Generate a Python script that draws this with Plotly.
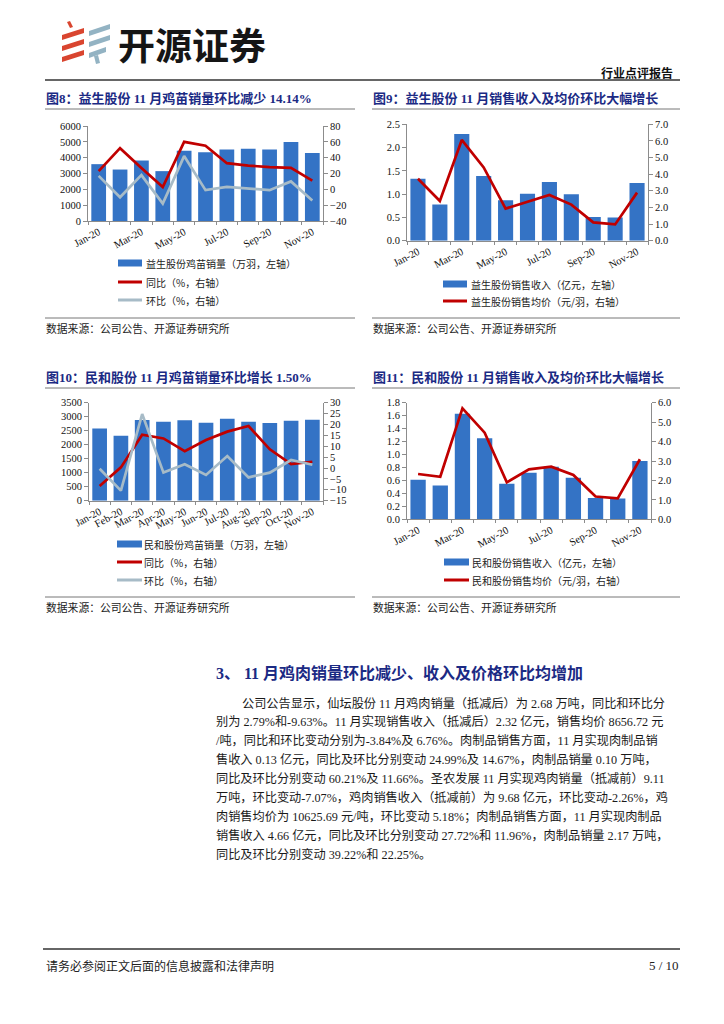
import plotly.graph_objects as go

W, H = 724, 1024
OFF = 8  # page body margin in the browser
def px(x): return (x - OFF) / W
def py(y): return 1 - (y - OFF) / H

# ---------------- data ----------------
months = ['Jan-20', 'Feb-20', 'Mar-20', 'Apr-20', 'May-20', 'Jun-20',
          'Jul-20', 'Aug-20', 'Sep-20', 'Oct-20', 'Nov-20']

ys_chick_vol = [3590, 3250, 3820, 3150, 4440, 4350, 4520, 4560, 4520, 4990, 4290]
ys_chick_yoy = [23, 52, 27, 3, 60, 55, 33, 30, 28, 27, 11]
ys_chick_mom = [17, -10, 18, -18, 42, -1, 3, 1, -1, 10, -14]

ys_rev = [1.33, 0.78, 2.29, 1.39, 0.87, 1.01, 1.26, 1.00, 0.51, 0.50, 1.24]
ys_price = [3.73, 2.39, 6.06, 4.41, 1.93, 2.35, 2.75, 2.17, 1.10, 0.98, 2.89]

mh_chick_vol = [2583, 2321, 2881, 2821, 2869, 2786, 2929, 2821, 2774, 2857, 2893]
mh_chick_yoy = [-8.3, 0.3, 15.3, 13.6, 7.7, 12.9, 16.7, 19.3, 8.6, 1.8, 2.9]
mh_chick_mom = [-0.3, -10.4, 24.8, -2.1, 1.7, -3.2, 5.5, -4.3, -2.1, 3.7, 1.5]

mh_rev = [0.61, 0.52, 1.63, 1.25, 0.55, 0.72, 0.81, 0.64, 0.33, 0.32, 0.90]
mh_price = [2.33, 2.19, 5.71, 4.46, 1.90, 2.57, 2.71, 2.28, 1.17, 1.08, 3.09]

titles = ['图8：益生股份 11 月鸡苗销量环比减少 14.14%',
          '图9：益生股份 11 月销售收入及均价环比大幅增长',
          '图10：民和股份 11 月鸡苗销量环比增长 1.50%',
          '图11：民和股份 11 月销售收入及均价环比大幅增长']
legend8 = ['益生股份鸡苗销量（万羽，左轴）', '同比（%，右轴）', '环比（%，右轴）']
legend9 = ['益生股份销售收入（亿元，左轴）', '益生股份销售均价（元/羽，右轴）']
legend10 = ['民和股份鸡苗销量（万羽，左轴）', '同比（%，右轴）', '环比（%，右轴）']
legend11 = ['民和股份销售收入（亿元，左轴）', '民和股份销售均价（元/羽，右轴）']
source = '数据来源：公司公告、开源证券研究所'

heading = '3、 11 月鸡肉销量环比减少、收入及价格环比均增加'
para = [
    '公司公告显示，仙坛股份 11 月鸡肉销量（抵减后）为 2.68 万吨，同比和环比分',
    '别为 2.79%和-9.63%。11 月实现销售收入（抵减后）2.32 亿元，销售均价 8656.72 元',
    '/吨，同比和环比变动分别为-3.84%及 6.76%。肉制品销售方面，11 月实现肉制品销',
    '售收入 0.13 亿元，同比及环比分别变动 24.99%及 14.67%，肉制品销量 0.10 万吨，',
    '同比及环比分别变动 60.21%及 11.66%。圣农发展 11 月实现鸡肉销量（抵减前）9.11',
    '万吨，环比变动-7.07%，鸡肉销售收入（抵减前）为 9.68 亿元，环比变动-2.26%，鸡',
    '肉销售均价为 10625.69 元/吨，环比变动 5.18%；肉制品销售方面，11 月实现肉制品',
    '销售收入 4.66 亿元，同比及环比分别变动 27.72%和 11.96%，肉制品销量 2.17 万吨，',
    '同比及环比分别变动 39.22%和 22.25%。',
]
header_tag = '行业点评报告'
brand = '开源证券'
footer_note = '请务必参阅正文后面的信息披露和法律声明'
page_no = '5 / 10'

# ---------------- style ----------------
BAR = '#3473C5'
RED = '#C00000'
GRAY = '#A7BBC7'
NAVY = '#1B2A84'
AX = '#8C8C8C'
SERIF = 'Liberation Serif, Noto Sans CJK SC'
CJK = 'Noto Sans CJK SC'

fig = go.Figure()

def add_chart(xid, yl, yr, bars, lines):
    fig.add_trace(go.Bar(x=months, y=bars, marker_color=BAR, marker_line_width=0,
                         xaxis=xid, yaxis=yl, showlegend=False))
    for vals, col in lines:
        fig.add_trace(go.Scatter(x=months, y=vals, mode='lines', line=dict(color=col, width=2.7),
                                 xaxis=xid, yaxis=yr, showlegend=False))

add_chart('x', 'y', 'y2', ys_chick_vol, [(ys_chick_yoy, RED), (ys_chick_mom, GRAY)])
add_chart('x2', 'y3', 'y4', ys_rev, [(ys_price, RED)])
add_chart('x3', 'y5', 'y6', mh_chick_vol, [(mh_chick_yoy, RED), (mh_chick_mom, GRAY)])
add_chart('x4', 'y7', 'y8', mh_rev, [(mh_price, RED)])

tickfont = dict(family=SERIF, size=10.5, color='#111')

def xax(x0, x1, anchor, every2):
    tt = [m if (not every2 or i % 2 == 0) else '' for i, m in enumerate(months)]
    return dict(domain=[px(x0), px(x1)], anchor=anchor, type='category',
                categoryorder='array', categoryarray=months,
                tickvals=months, ticktext=tt, tickangle=-28, tickson='boundaries',
                ticks='outside', ticklen=3, tickcolor=AX,
                showline=True, linecolor=AX, linewidth=1, showgrid=False,
                tickfont=tickfont, fixedrange=True, automargin=False)

def yax(y0, y1, anchor, rng, dtick, fmt, side='left', overlay=None):
    d = dict(range=rng, dtick=dtick, tick0=rng[0], tickformat=fmt, side=side, anchor=anchor,
             showline=True, linecolor=AX, linewidth=1, ticks='outside', ticklen=4, tickcolor=AX,
             showgrid=False, zeroline=False, tickfont=tickfont, fixedrange=True, automargin=False)
    if overlay:
        d['overlaying'] = overlay
    else:
        d['domain'] = [py(y1), py(y0)]
    return d

fig.update_layout(
    width=W, height=H, margin=dict(l=0, r=0, t=0, b=0),
    paper_bgcolor='white', plot_bgcolor='white', bargap=0.31, showlegend=False,
    xaxis=xax(88, 323, 'y', True),
    yaxis=yax(126, 221, 'x', [0, 6000], 1000, 'd'),
    yaxis2=yax(126, 221, 'x', [-40, 80], 20, 'd', 'right', 'y'),
    xaxis2=xax(407, 648, 'y3', True),
    yaxis3=yax(124.3, 240.7, 'x2', [0, 2.5], 0.5, '.1f'),
    yaxis4=yax(124.3, 240.7, 'x2', [0, 7], 1, '.1f', 'right', 'y3'),
    xaxis3=xax(89, 323, 'y5', False),
    yaxis5=yax(402.7, 500.7, 'x3', [0, 3500], 500, 'd'),
    yaxis6=yax(402.7, 500.7, 'x3', [-15, 30], 5, 'd', 'right', 'y5'),
    xaxis4=xax(407, 651, 'y7', True),
    yaxis7=yax(402.7, 519.3, 'x4', [0, 1.8], 0.2, '.1f'),
    yaxis8=yax(402.7, 519.3, 'x4', [0, 6], 1, '.1f', 'right', 'y7'),
)

shapes = []
ann = []

def hline(x0, x1, y, color='#555', w=1.5):
    shapes.append(dict(type='line', xref='paper', yref='paper', x0=px(x0), x1=px(x1),
                       y0=py(y), y1=py(y), line=dict(color=color, width=w)))

def text(x, y, s, size, color='#111', family=SERIF, xanchor='left', bold=False):
    ann.append(dict(xref='paper', yref='paper', x=px(x), y=py(y), text=('<b>%s</b>' % s) if bold else s,
                    showarrow=False, xanchor=xanchor, yanchor='middle', borderpad=0,
                    font=dict(family=family, size=size, color=color)))

# header
hline(45, 680, 80, '#666', 1.8)
text(674, 72, header_tag, 12, '#111', CJK, 'right', True)
text(117, 44, brand, 37, '#151515', CJK, 'left', True)

# logo (stylised stripes)
def poly(pts, color):
    p = 'M ' + ' L '.join('%f %f' % (px(a), py(b)) for a, b in pts) + ' Z'
    shapes.append(dict(type='path', xref='paper', yref='paper', path=p,
                       fillcolor=color, line=dict(width=0)))
LR = '#D9452F'
LB = '#93B3C3'
poly([(67, 22), (70, 21), (73, 27), (70, 28)], LR)
poly([(62, 35), (84, 28), (84, 33), (62, 40)], LR)
poly([(62, 46), (84, 39), (84, 44), (62, 51)], LR)
poly([(62, 57), (84, 50), (84, 55), (62, 62)], LR)
poly([(89, 31), (110, 24), (110, 29), (89, 36)], LB)
poly([(89, 42), (110, 35), (110, 40), (89, 47)], LB)
poly([(89, 53), (106, 47), (106, 52), (89, 58)], LB)
poly([(94, 56), (98, 55), (100, 63), (96, 64)], LB)

# figure titles, rules, sources
for (x0, x1), ty, ry, sy, t in [((45, 355), 98, 109, 318, titles[0]),
                                ((372, 680), 98, 109, 318, titles[1]),
                                ((45, 355), 377, 388, 597, titles[2]),
                                ((372, 680), 377, 388, 597, titles[3])]:
    text(x0, ty, t, 13, NAVY, SERIF, 'left', True)
    hline(x0, x1, ry, '#777', 1)
    hline(x0, x1, sy, '#777', 1)
    text(x0, sy + 10, source, 10.8, '#222', CJK)

# legends
def leg_bar(x0, x1, y, label, tx):
    shapes.append(dict(type='rect', xref='paper', yref='paper', x0=px(x0), x1=px(x1),
                       y0=py(y + 3.5), y1=py(y - 3.5), fillcolor=BAR, line=dict(width=0)))
    text(tx, y, label, 10, '#222', CJK)

def leg_line(x0, x1, y, color, label, tx):
    shapes.append(dict(type='line', xref='paper', yref='paper', x0=px(x0), x1=px(x1),
                       y0=py(y), y1=py(y), line=dict(color=color, width=3)))
    text(tx, y, label, 10, '#222', CJK)

leg_bar(118, 142, 263, legend8[0], 145)
leg_line(118, 142, 282, RED, legend8[1], 145)
leg_line(118, 142, 300, GRAY, legend8[2], 145)

leg_bar(443, 467, 284, legend9[0], 470)
leg_line(443, 467, 301, RED, legend9[1], 470)

leg_bar(117, 142, 544, legend10[0], 143)
leg_line(117, 142, 562, RED, legend10[1], 143)
leg_line(117, 142, 580, GRAY, legend10[2], 143)

leg_bar(444, 469, 562, legend11[0], 471)
leg_line(444, 469, 580, RED, legend11[1], 471)

# section heading + paragraph
text(215, 673, heading, 16, NAVY, SERIF, 'left', True)
for i, line in enumerate(para):
    x = 241 if i == 0 else 215
    text(x, 703 + 18.9 * i, line, 12.2, '#1a1a1a', SERIF)

# footer
hline(43, 680, 949, '#666', 1.8)
text(45, 965, footer_note, 12, '#222', CJK)
text(680, 965, page_no, 13, '#222', SERIF, 'right')

fig.update_layout(shapes=shapes, annotations=ann)
fig.write_html('out.html')
